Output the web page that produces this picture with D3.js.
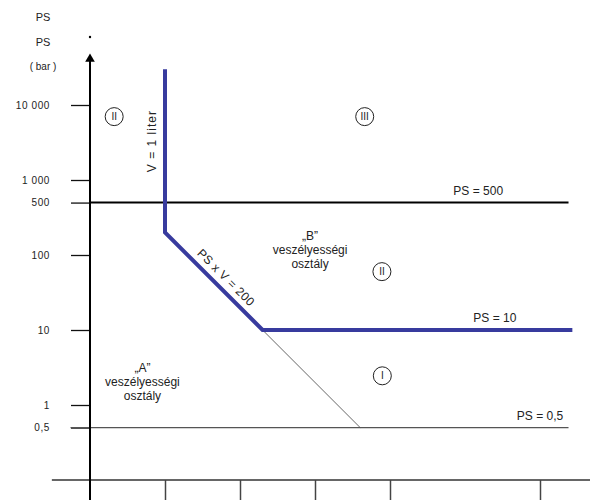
<!DOCTYPE html>
<html>
<head>
<meta charset="utf-8">
<script src="https://cdn.jsdelivr.net/npm/d3@7"></script>
<style>
  body { margin: 0; background: #fff; }
  text { font-family: "Liberation Sans", Arial, sans-serif; fill: #222; }
</style>
</head>
<body>
<div id="chart"></div>
<script>
const yTicks = [10000, 1000, 500, 100, 10, 1, 0.5];
const yLabels = ["10 000", "1 000", "500", "100", "10", "1", "0,5"];
const xTicks = [1, 10, 100, 1000, 100000];

// limite bleue : V = 1 liter, PS x V = 200, PS = 10
const blueV = [1, 1, 20, 270000];
const bluePS = [30000, 200, 10, 10];
// prolongement fin de PS x V = 200 jusqu'à PS = 0,5
const thinV = [20, 400];
const thinPS = [10, 0.5];

// lignes horizontales
const hLines = [
  { ps: 500, from: 0.1, to: 240000, label: "PS = 500", at: 15000 },
  { ps: 0.5, from: 0.055, to: 240000, label: "PS = 0,5", at: 100000 }
];
const ps10Label = { ps: 10, label: "PS = 10", at: 25000 };

// étiquettes des zones
const zones = [
  { v: 0.21, ps: 7000, txt: "II" },
  { v: 460, ps: 7000, txt: "III" },
  { v: 780, ps: 60, txt: "II" },
  { v: 790, ps: 2.45, txt: "I" }
];
const classA = { v: 0.5, ps: 2.75, lines: ["\u201EA\u201D", "veszélyességi", "osztály"] };
const classB = { v: 86, ps: 158, lines: ["\u201EB\u201D", "veszélyességi", "osztály"] };

const width = 590, height = 500;
const blue = "#383b9e";

const svg = d3.select("#chart").append("svg")
  .attr("width", width)
  .attr("height", height);

const x = d3.scaleLog().domain([1, 1000]).range([165, 390]);
const y = d3.scaleLog().domain([10, 10000]).range([330, 105]);

const x0 = x(0.1), y0 = y(0.1);

// axe x
svg.append("line")
  .attr("x1", x(0.031)).attr("x2", width)
  .attr("y1", y0).attr("y2", y0)
  .attr("stroke", "#333").attr("stroke-width", 1.5);

const xAxis = svg.append("g")
  .attr("transform", "translate(0," + y0 + ")")
  .call(d3.axisBottom(x).tickValues(xTicks).tickSize(20).tickFormat(""));
xAxis.select(".domain").remove();
xAxis.selectAll("line").attr("stroke", "#444").attr("stroke-width", 1.5);

// axe y
const yAxis = svg.append("g")
  .attr("transform", "translate(" + x0 + ",0)")
  .call(d3.axisLeft(y).tickValues(yTicks).tickSize(19).tickPadding(21)
    .tickFormat((d, i) => yLabels[i]));
yAxis.select(".domain").remove();
yAxis.selectAll("line").attr("stroke", "#111").attr("stroke-width", 1.3);
yAxis.selectAll("text")
  .style("font-family", "'Liberation Sans', Arial, sans-serif")
  .style("font-size", "10px")
  .style("letter-spacing", "0.6px")
  .attr("fill", "#333");

// lignes horizontales PS = 500 et PS = 0,5
svg.selectAll(".hline")
  .data(hLines)
  .join("line")
  .attr("x1", d => x(d.from)).attr("x2", d => x(d.to))
  .attr("y1", d => y(d.ps)).attr("y2", d => y(d.ps))
  .attr("stroke", d => d.ps === 500 ? "#000" : "#555")
  .attr("stroke-width", d => d.ps === 500 ? 2 : 1.2);

svg.selectAll(".hlabel")
  .data(hLines.concat([ps10Label]))
  .join("text")
  .attr("x", d => x(d.at))
  .attr("y", d => y(d.ps) - 8)
  .attr("text-anchor", "middle")
  .style("font-size", "12px")
  .text(d => d.label);

// prolongement fin
const line = d3.line().x(d => x(d[0])).y(d => y(d[1]));
svg.append("path")
  .attr("d", line(d3.zip(thinV, thinPS)))
  .attr("fill", "none")
  .attr("stroke", "#555")
  .attr("stroke-width", 0.9);

// limite bleue
svg.append("path")
  .attr("d", line(d3.zip(blueV, bluePS)))
  .attr("fill", "none")
  .attr("stroke", blue)
  .attr("stroke-width", 4);

// trait vertical de l'axe y + flèche
svg.append("line")
  .attr("x1", x0).attr("x2", x0)
  .attr("y1", 58).attr("y2", height)
  .attr("stroke", "#000").attr("stroke-width", 2);
svg.append("path")
  .attr("d", d3.symbol(d3.symbolTriangle, 40)())
  .attr("transform", "translate(" + x0 + ",59)")
  .attr("fill", "#000");
svg.append("circle")
  .attr("cx", x0).attr("cy", 37).attr("r", 1.2).attr("fill", "#000");

// titre de l'axe
svg.selectAll(".ytitle")
  .data(["PS", "PS", "( bar )"])
  .join("text")
  .attr("x", 43)
  .attr("y", (d, i) => 21 + i * 24.5)
  .attr("text-anchor", "middle")
  .style("font-size", (d, i) => i === 2 ? "10px" : "11px")
  .text(d => d);

// textes le long des limites
svg.append("text")
  .attr("transform", "translate(" + (x(1) - 9) + "," + y(3300) + ") rotate(-90)")
  .attr("text-anchor", "middle")
  .style("font-size", "12px")
  .style("letter-spacing", "1px")
  .text("V = 1 liter");

const mid = [x(5.1), y(200 / 5.1)];
svg.append("text")
  .attr("transform", "translate(" + (mid[0] + 5) + "," + (mid[1] - 5) + ") rotate(45)")
  .attr("text-anchor", "middle")
  .style("font-size", "12px")
  .style("letter-spacing", "0.4px")
  .text("PS x V = 200");

// numéros de zone cerclés
const zg = svg.selectAll(".zone")
  .data(zones)
  .join("g")
  .attr("transform", d => "translate(" + x(d.v) + "," + y(d.ps) + ")");
zg.append("circle")
  .attr("r", 9)
  .attr("fill", "none")
  .attr("stroke", "#222")
  .attr("stroke-width", 1);
zg.append("text")
  .attr("text-anchor", "middle")
  .attr("dy", "0.36em")
  .style("font-size", "10px")
  .text(d => d.txt);

// classes A et B
[classA, classB].forEach(c => {
  svg.append("g")
    .selectAll("text")
    .data(c.lines)
    .join("text")
    .attr("x", x(c.v))
    .attr("y", (d, i) => y(c.ps) + i * 14)
    .attr("text-anchor", "middle")
    .style("font-size", "12px")
    .text(d => d);
});
</script>
</body>
</html>
